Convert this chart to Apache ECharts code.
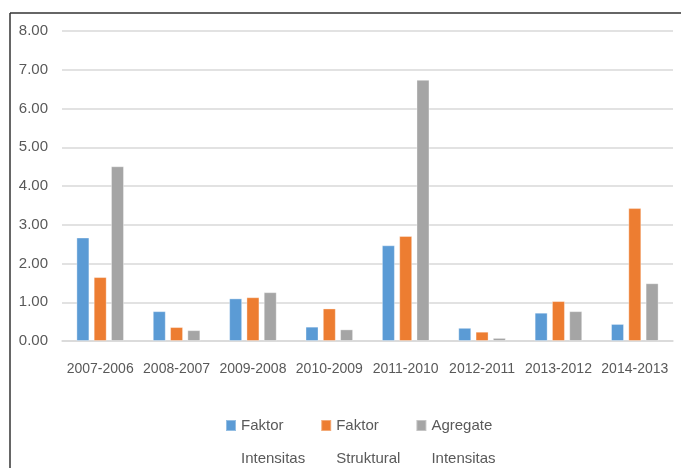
<!DOCTYPE html>
<html>
<head>
<meta charset="utf-8">
<script src="https://cdn.jsdelivr.net/npm/echarts@6/dist/echarts.min.js"></script>
<style>
html,body{margin:0;padding:0;background:#fff;}
#c{width:681px;height:468px;}
</style>
</head>
<body>
<div id="c"></div>
<script>
var categories = ['2007-2006','2008-2007','2009-2008','2010-2009','2011-2010','2012-2011','2013-2012','2014-2013'];
var faktorIntensitas = [2.67, 0.77, 1.10, 0.37, 2.47, 0.34, 0.73, 0.44];
var faktorStruktural = [1.65, 0.36, 1.13, 0.84, 2.71, 0.24, 1.03, 3.43];
var agregateIntensitas = [4.51, 0.28, 1.26, 0.30, 6.74, 0.08, 0.77, 1.49];
var seriesNames = ['Faktor Intensitas', 'Faktor Struktural', 'Agregate Intensitas'];
var yTicks = [0, 1, 2, 3, 4, 5, 6, 7, 8];

var FONT = "'Liberation Sans', Arial, sans-serif";
var TXT = '#595959';
var colors = ['#5B9BD5', '#ED7D31', '#A5A5A5'];

var chart = echarts.init(document.getElementById('c'), null, {renderer: 'canvas'});

function bar(name, data, color) {
  return {
    name: name,
    type: 'bar',
    data: data,
    barWidth: 13,
    barGap: '33%',
    itemStyle: {color: color, borderColor: 'rgba(255,255,255,0.35)', borderWidth: 1},
    emphasis: {disabled: true}
  };
}

chart.setOption({
  animation: false,
  color: colors,
  textStyle: {fontFamily: FONT},
  grid: {left: 62, right: 8, top: 31, bottom: 127, containLabel: false},
  graphic: [
    {type: 'line', shape: {x1: 10, y1: 13, x2: 681, y2: 13}, style: {stroke: '#333', lineWidth: 1.5}},
    {type: 'line', shape: {x1: 10, y1: 13, x2: 10, y2: 468}, style: {stroke: '#333', lineWidth: 1.5}}
  ],
  xAxis: {
    type: 'category',
    data: categories,
    axisLine: {show: true, lineStyle: {color: '#d9d9d9', width: 1.5}},
    axisTick: {show: false},
    axisLabel: {color: TXT, fontSize: 14, fontFamily: FONT, margin: 21, interval: 0}
  },
  yAxis: {
    type: 'value',
    min: yTicks[0],
    max: yTicks[yTicks.length - 1],
    interval: 1,
    axisLine: {show: false},
    axisTick: {show: false},
    splitLine: {lineStyle: {color: '#d9d9d9', width: 1.5}},
    axisLabel: {color: TXT, fontSize: 15, fontFamily: FONT, margin: 14,
      formatter: function (v) { return v.toFixed(2); }}
  },
  legend: {
    left: 225,
    top: 376,
    padding: 0,
    itemWidth: 10,
    itemHeight: 11,
    itemGap: 15,
    icon: 'rect',
    data: seriesNames,
    formatter: function (n) { return ' \n' + n.replace(' ', '\n'); },
    textStyle: {color: TXT, fontSize: 15, fontFamily: FONT, lineHeight: 33}
  },
  series: [
    bar(seriesNames[0], faktorIntensitas, colors[0]),
    bar(seriesNames[1], faktorStruktural, colors[1]),
    bar(seriesNames[2], agregateIntensitas, colors[2])
  ]
});
</script>
</body>
</html>
